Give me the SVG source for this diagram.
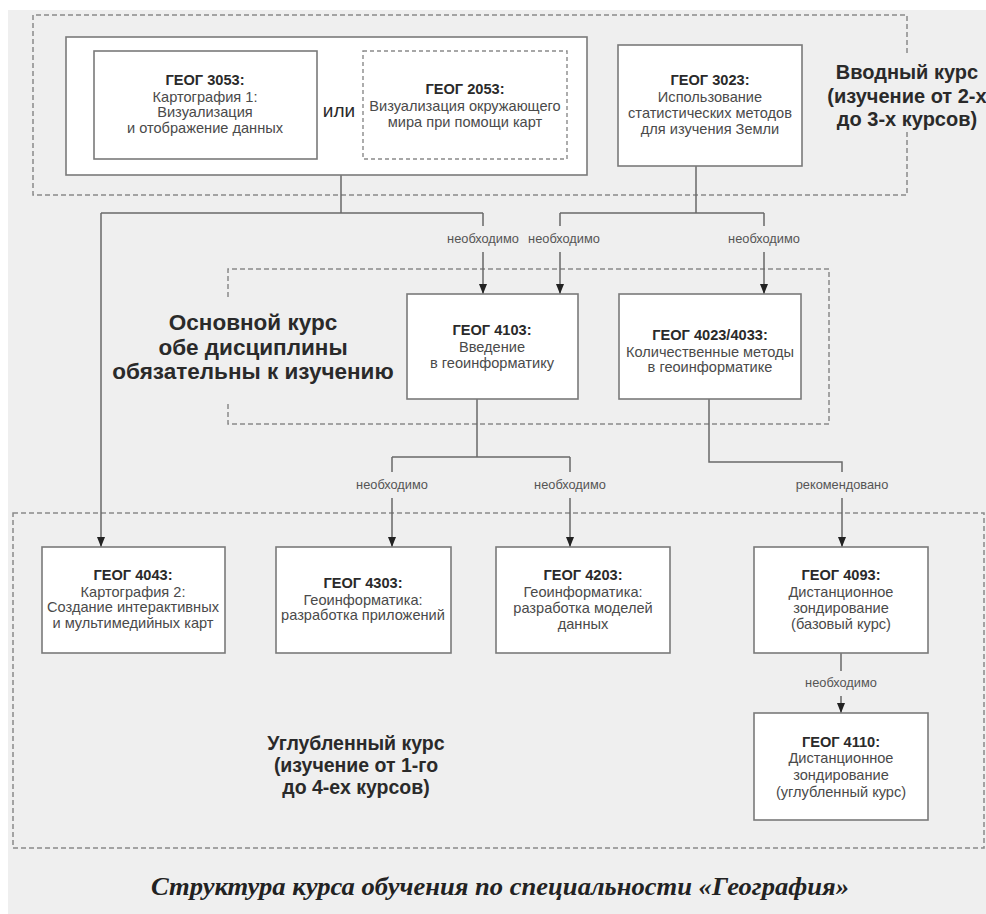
<svg xmlns="http://www.w3.org/2000/svg" width="986" height="914" viewBox="0 0 986 914">
<defs>
<style>
.bg{fill:#efefef}
.box{fill:#ffffff;stroke:#7a7a7a;stroke-width:1.6}
.dbox{fill:#ffffff;stroke:#8a8a8a;stroke-width:1.4;stroke-dasharray:4 3}
.grp{fill:none;stroke:#8a8a8a;stroke-width:1.5;stroke-dasharray:5 3}
.ln{fill:none;stroke:#6a6a6a;stroke-width:1.5}
.t{font-family:"Liberation Sans",Arial,sans-serif;font-size:14.6px;fill:#4a4a4a;text-anchor:middle}
.tb{font-family:"Liberation Sans",Arial,sans-serif;font-size:14.6px;font-weight:bold;fill:#2a2a2a;text-anchor:middle}
.lbl{font-family:"Liberation Sans",Arial,sans-serif;font-size:12.8px;fill:#555;text-anchor:middle}
.big{font-family:"Liberation Sans",Arial,sans-serif;font-weight:bold;fill:#2a2a2a;text-anchor:middle}
.cap{font-family:"Liberation Serif","Times New Roman",serif;font-weight:bold;font-style:italic;font-size:25px;fill:#222;text-anchor:middle}
</style>
</defs>
<rect x="0" y="0" width="986" height="914" fill="#ffffff"/>
<rect class="bg" x="8" y="10" width="978" height="904"/>

<g id="groups">
<path class="grp" d="M907,53 L907,15 L33,15 L33,195 L907,195 L907,132"/>
<path class="grp" d="M228,297 L228,269 L829,269 L829,424 L228,424 L228,403"/>
<rect class="grp" x="13" y="513" width="971" height="335"/>
</g>

<g id="group-labels">
<text class="big" font-size="20" x="907" y="79">Вводный курс</text>
<text class="big" font-size="20" x="907" y="103">(изучение от 2-х</text>
<text class="big" font-size="20" x="907" y="126">до 3-х курсов)</text>
<text class="big" font-size="22.5" x="253" y="330">Основной курс</text>
<text class="big" font-size="22.5" x="253" y="355">обе дисциплины</text>
<text class="big" font-size="22.5" x="253" y="379">обязательны к изучению</text>
<text class="big" font-size="19.5" x="356" y="750">Углубленный курс</text>
<text class="big" font-size="19.5" x="356" y="772">(изучение от 1-го</text>
<text class="big" font-size="19.5" x="356" y="794">до 4-ех курсов)</text>
</g>

<g id="connectors">
<path class="ln" d="M341,175 L341,213 M101,213 L483,213 M101,213 L101,547"/>
<path class="ln" d="M483,213 L483,226 M483,252 L483,294"/>
<path class="ln" d="M696,166 L696,213 M560,213 L764,213"/>
<path class="ln" d="M560,213 L560,226 M560,252 L560,294"/>
<path class="ln" d="M764,213 L764,226 M764,252 L764,294"/>
<path class="ln" d="M477,399 L477,457 M392,457 L570,457"/>
<path class="ln" d="M392,457 L392,472 M392,498 L392,547"/>
<path class="ln" d="M570,457 L570,472 M570,498 L570,547"/>
<path class="ln" d="M709,399 L709,462 L842,462 L842,472 M842,498 L842,547"/>
<path class="ln" d="M841,653 L841,671 M841,696 L841,713"/>
<g fill="#222">
<path d="M97,537 L105,537 L101,547 z"/>
<path d="M479,284 L487,284 L483,294 z"/>
<path d="M556,284 L564,284 L560,294 z"/>
<path d="M760,284 L768,284 L764,294 z"/>
<path d="M388,537 L396,537 L392,547 z"/>
<path d="M566,537 L574,537 L570,547 z"/>
<path d="M838,537 L846,537 L842,547 z"/>
<path d="M837,703 L845,703 L841,713 z"/>
</g>
<text class="lbl" x="483" y="243">необходимо</text>
<text class="lbl" x="564" y="243">необходимо</text>
<text class="lbl" x="764" y="243">необходимо</text>
<text class="lbl" x="392" y="489">необходимо</text>
<text class="lbl" x="570" y="489">необходимо</text>
<text class="lbl" x="842" y="489">рекомендовано</text>
<text class="lbl" x="841" y="687">необходимо</text>
</g>

<g id="intro-choice">
<rect class="box" x="66" y="37" width="521" height="138"/>
<text font-family="'Liberation Sans',Arial,sans-serif" font-size="19" fill="#2a2a2a" text-anchor="middle" x="339" y="117">или</text>
</g>

<g id="geog3053">
<rect class="box" x="94" y="51" width="223" height="108"/>
<text class="tb" x="205" y="85">ГЕОГ 3053:</text>
<text class="t" x="205" y="102">Картография 1:</text>
<text class="t" x="205" y="117">Визуализация</text>
<text class="t" x="205" y="133">и отображение данных</text>
</g>

<g id="geog2053">
<rect class="dbox" x="363" y="51" width="204" height="108"/>
<text class="tb" x="465" y="94">ГЕОГ 2053:</text>
<text class="t" x="465" y="111">Визуализация окружающего</text>
<text class="t" x="465" y="127">мира при помощи карт</text>
</g>

<g id="geog3023">
<rect class="box" x="618" y="45" width="184" height="121"/>
<text class="tb" x="710" y="85">ГЕОГ 3023:</text>
<text class="t" x="710" y="102">Использование</text>
<text class="t" x="710" y="118">статистических методов</text>
<text class="t" x="710" y="134">для изучения Земли</text>
</g>

<g id="geog4103">
<rect class="box" x="407" y="294" width="171" height="105"/>
<text class="tb" x="492" y="335">ГЕОГ 4103:</text>
<text class="t" x="492" y="352">Введение</text>
<text class="t" x="492" y="368">в геоинформатику</text>
</g>

<g id="geog4023">
<rect class="box" x="619" y="294" width="182" height="105"/>
<text class="tb" x="710" y="340">ГЕОГ 4023/4033:</text>
<text class="t" x="710" y="357">Количественные методы</text>
<text class="t" x="710" y="372">в геоинформатике</text>
</g>

<g id="geog4043">
<rect class="box" x="42" y="547" width="183" height="106"/>
<text class="tb" x="133" y="580">ГЕОГ 4043:</text>
<text class="t" x="133" y="597">Картография 2:</text>
<text class="t" x="133" y="612">Создание интерактивных</text>
<text class="t" x="133" y="628">и мультимедийных карт</text>
</g>

<g id="geog4303">
<rect class="box" x="276" y="547" width="175" height="106"/>
<text class="tb" x="363" y="588">ГЕОГ 4303:</text>
<text class="t" x="363" y="605">Геоинформатика:</text>
<text class="t" x="363" y="620">разработка приложений</text>
</g>

<g id="geog4203">
<rect class="box" x="496" y="547" width="174" height="106"/>
<text class="tb" x="583" y="580">ГЕОГ 4203:</text>
<text class="t" x="583" y="597">Геоинформатика:</text>
<text class="t" x="583" y="613">разработка моделей</text>
<text class="t" x="583" y="629">данных</text>
</g>

<g id="geog4093">
<rect class="box" x="754" y="547" width="174" height="106"/>
<text class="tb" x="841" y="580">ГЕОГ 4093:</text>
<text class="t" x="841" y="597">Дистанционное</text>
<text class="t" x="841" y="613">зондирование</text>
<text class="t" x="841" y="629">(базовый курс)</text>
</g>

<g id="geog4110">
<rect class="box" x="754" y="713" width="174" height="107"/>
<text class="tb" x="841" y="747">ГЕОГ 4110:</text>
<text class="t" x="841" y="763">Дистанционное</text>
<text class="t" x="841" y="780">зондирование</text>
<text class="t" x="841" y="797">(углубленный курс)</text>
</g>

<text class="cap" x="500" y="895" textLength="698" lengthAdjust="spacingAndGlyphs">Структура курса обучения по специальности «География»</text>
</svg>
